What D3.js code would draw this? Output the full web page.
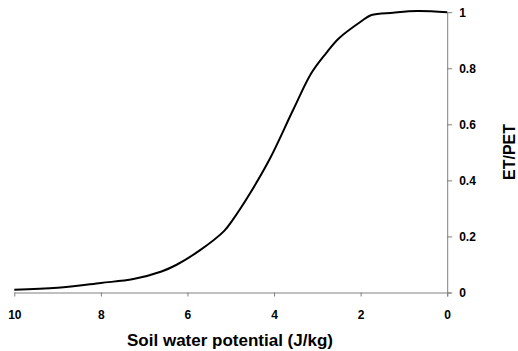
<!DOCTYPE html>
<html>
<head>
  <meta charset="utf-8">
  <style>
    body { margin: 0; background: #fff; }
    .tick text { font-family: "Liberation Sans", Arial, sans-serif; font-weight: bold; font-size: 12px; fill: #000; }
    .axis-title { font-family: "Liberation Sans", Arial, sans-serif; font-weight: bold; font-size: 17px; fill: #000; }
  </style>
  <script src="https://d3js.org/d3.v7.min.js"></script>
</head>
<body>
  <div id="chart"></div>
  <script>
    // soil water potential (J/kg) vs ET/PET
    var potential = [10, 9, 8, 7.25, 6.6, 6.25, 5.7, 5.15, 4.95, 4.55, 4.1, 3.56, 3.14, 2.8, 2.5, 2.0, 1.75, 1.25, 0.7, 0];
    var ratio     = [0.01, 0.017, 0.034, 0.048, 0.075, 0.099, 0.152, 0.22, 0.26, 0.355, 0.476, 0.651, 0.782, 0.853, 0.907, 0.966, 0.99, 0.998, 1.004, 1.0];
    var xTicks = [10, 8, 6, 4, 2, 0];
    var yTicks = [0, 0.2, 0.4, 0.6, 0.8, 1];

    var width = 518, height = 351;

    var svg = d3.select("#chart").append("svg")
      .attr("width", width)
      .attr("height", height);

    var x = d3.scaleLinear().domain([10, 0]).range([14.3, 447.2]);
    var y = d3.scaleLinear().domain([0, 1]).range([292.5, 12.2]);

    // x axis
    var xAxis = svg.append("g")
      .attr("transform", "translate(0," + y(0) + ")")
      .call(d3.axisBottom(x).tickValues(xTicks).tickFormat(d3.format("d")).tickSizeInner(4).tickSizeOuter(0).tickPadding(14));
    xAxis.select(".domain").attr("stroke", "#808080").attr("d", "M" + x(10) + ",0.5H" + (x(0) + 4));
    xAxis.selectAll(".tick line").attr("stroke", "#808080");

    // y axis on right
    var yAxis = svg.append("g")
      .attr("transform", "translate(" + x(0) + ",0)")
      .call(d3.axisRight(y).tickValues(yTicks).tickFormat(function (d) { return d === 0 || d === 1 ? d3.format("d")(d) : d3.format(".1f")(d); }).tickSizeInner(5).tickSizeOuter(0).tickPadding(7));
    yAxis.select(".domain").attr("stroke", "#808080").attr("d", "M0.5," + y(1) + "V" + (y(0) + 4));
    yAxis.selectAll(".tick line").attr("stroke", "#808080");

    // curve
    var pts = potential.map(function (p, i) { return [p, ratio[i]]; });
    svg.append("path")
      .datum(pts)
      .attr("fill", "none")
      .attr("stroke", "#000")
      .attr("stroke-width", 2)
      .attr("d", d3.line()
        .x(function (d) { return x(d[0]); })
        .y(function (d) { return y(d[1]); })
        .curve(d3.curveCatmullRom));

    // titles
    svg.append("text")
      .attr("class", "axis-title")
      .attr("x", 230)
      .attr("y", 346)
      .attr("text-anchor", "middle")
      .text("Soil water potential (J/kg)");

    svg.append("text")
      .attr("class", "axis-title")
      .style("font-size", "16px")
      .attr("transform", "translate(514.5,152) rotate(-90)")
      .attr("text-anchor", "middle")
      .text("ET/PET");
  </script>
</body>
</html>
